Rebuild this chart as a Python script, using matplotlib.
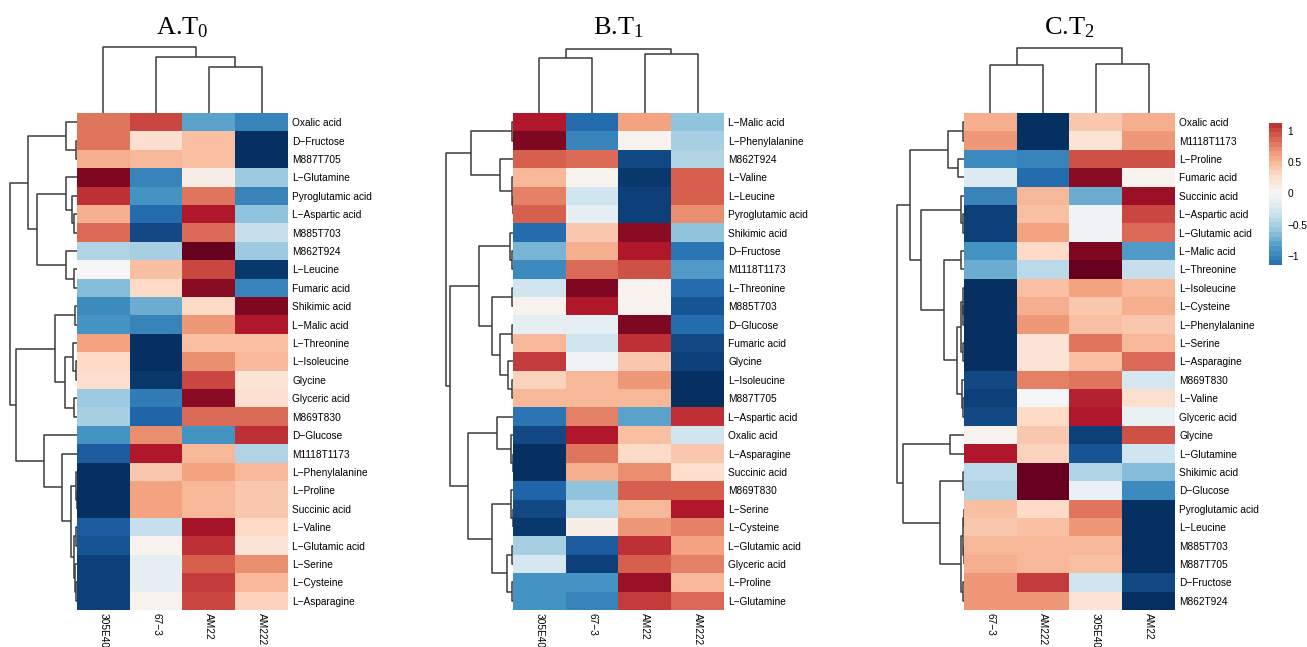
import numpy as np
import matplotlib
matplotlib.use("Agg")
import matplotlib.pyplot as plt
from matplotlib.colors import Normalize
from matplotlib.cm import ScalarMappable

plt.rcParams["font.family"] = ["Liberation Sans", "DejaVu Sans"]
plt.rcParams["mathtext.fontset"] = "custom"
plt.rcParams["mathtext.rm"] = "Liberation Serif"
plt.rcParams["mathtext.it"] = "Liberation Serif"

# ---- panel A (T0) ----
samples_a = ["305E40", "67-3", "AM22", "AM222"]
rows_a = ["Oxalic acid", "D-Fructose", "M887T705", "L-Glutamine", "Pyroglutamic acid",
          "L-Aspartic acid", "M885T703", "M862T924", "L-Leucine", "Fumaric acid",
          "Shikimic acid", "L-Malic acid", "L-Threonine", "L-Isoleucine", "Glycine",
          "Glyceric acid", "M869T830", "D-Glucose", "M1118T1173", "L-Phenylalanine",
          "L-Proline", "Succinic acid", "L-Valine", "L-Glutamic acid", "L-Serine",
          "L-Cysteine", "L-Asparagine"]
values_a = [[0.8, 1.0, -0.8, -1.0], [0.8, 0.25, 0.45, -1.5], [0.55, 0.5, 0.45, -1.5],
            [1.4, -1.0, 0.1, -0.55], [1.1, -0.9, 0.8, -1.0], [0.55, -1.15, 1.2, -0.6],
            [0.85, -1.35, 0.85, -0.35], [-0.45, -0.5, 1.5, -0.55], [0.0, 0.45, 1.0, -1.45],
            [-0.65, 0.3, 1.35, -1.0], [-0.95, -0.75, 0.3, 1.4], [-0.9, -1.0, 0.65, 1.2],
            [0.6, -1.5, 0.45, 0.45], [0.3, -1.5, 0.7, 0.5], [0.25, -1.45, 1.0, 0.2],
            [-0.55, -1.05, 1.35, 0.25], [-0.5, -1.2, 0.85, 0.85], [-0.9, 0.7, -0.9, 1.1],
            [-1.25, 1.2, 0.5, -0.45], [-1.5, 0.4, 0.6, 0.5], [-1.5, 0.6, 0.5, 0.4],
            [-1.5, 0.6, 0.5, 0.4], [-1.25, -0.35, 1.25, 0.3], [-1.3, 0.05, 1.1, 0.2],
            [-1.4, -0.15, 0.9, 0.7], [-1.4, -0.15, 1.05, 0.5], [-1.4, 0.05, 1.0, 0.35]]
# dendrograms: (left, right, height), leaves are row / column indices
row_tree_a = (((0, (1, 2, 1), 11),
               ((3, (4, (5, 6, 3.5), 5.5), 11), (7, (8, 9, 3.5), 11.5), 40), 49),
              (((10, 11, 2), ((12, (13, 14, 1), 4), (15, 16, 3), 12), 22),
               (17, (18, ((19, (20, 21, 0.5), 1.5),
                          ((22, 23, 1.5), (24, (25, 26, 1), 2), 3), 6.3), 15.3), 33), 61),
              67)
col_tree_a = (0, (1, (2, 3, 46), 56), 66)

# ---- panel B (T1) ----
samples_b = ["305E40", "67-3", "AM22", "AM222"]
rows_b = ["L-Malic acid", "L-Phenylalanine", "M862T924", "L-Valine", "L-Leucine",
          "Pyroglutamic acid", "Shikimic acid", "D-Fructose", "M1118T1173", "L-Threonine",
          "M885T703", "D-Glucose", "Fumaric acid", "Glycine", "L-Isoleucine", "M887T705",
          "L-Aspartic acid", "Oxalic acid", "L-Asparagine", "Succinic acid", "M869T830",
          "L-Serine", "L-Cysteine", "L-Glutamic acid", "Glyceric acid", "L-Proline",
          "L-Glutamine"]
values_b = [[1.2, -1.15, 0.6, -0.6], [1.4, -1.0, 0.05, -0.5], [0.9, 0.85, -1.35, -0.45],
            [0.5, 0.05, -1.45, 0.9], [0.75, -0.3, -1.4, 0.9], [0.9, -0.15, -1.4, 0.7],
            [-1.15, 0.4, 1.35, -0.6], [-0.7, 0.55, 1.2, -1.1], [-0.95, 0.85, 0.95, -0.85],
            [-0.3, 1.4, 0.05, -1.15], [0.05, 1.2, 0.05, -1.3], [-0.15, -0.15, 1.4, -1.15],
            [0.5, -0.3, 1.1, -1.35], [1.05, -0.05, 0.4, -1.4], [0.35, 0.5, 0.65, -1.5],
            [0.5, 0.5, 0.5, -1.5], [-1.1, 0.75, -0.8, 1.1], [-1.35, 1.2, 0.45, -0.3],
            [-1.5, 0.8, 0.3, 0.4], [-1.5, 0.55, 0.7, 0.25], [-1.2, -0.6, 0.9, 0.9],
            [-1.35, -0.4, 0.5, 1.2], [-1.45, 0.1, 0.65, 0.75], [-0.5, -1.25, 1.1, 0.6],
            [-0.25, -1.4, 0.9, 0.75], [-0.9, -0.9, 1.3, 0.5], [-0.9, -1.0, 1.05, 0.85]]
row_tree_b = (((0, 1, 1), (2, (3, (4, 5, 0.5), 1.2), 13.3), 41.7),
              (((6, (7, 8, 1.5), 3.3),
                ((9, 10, 1), ((11, 12, 1), (13, (14, 15, 1), 5), 13.3), 21), 34.3),
               ((16, (17, (18, 19, 0.5), 2.3), 15.7),
                ((20, (21, 22, 0.5), 2.3), ((23, 24, 1.2), (25, 26, 1), 5.7), 21), 45),
               62.7),
              66.7)
col_tree_b = ((0, 1, 54.7), (2, 3, 58.7), 64)

# ---- panel C (T2) ----
samples_c = ["67-3", "AM222", "305E40", "AM22"]
rows_c = ["Oxalic acid", "M1118T1173", "L-Proline", "Fumaric acid", "Succinic acid",
          "L-Aspartic acid", "L-Glutamic acid", "L-Malic acid", "L-Threonine",
          "L-Isoleucine", "L-Cysteine", "L-Phenylalanine", "L-Serine", "L-Asparagine",
          "M869T830", "L-Valine", "Glyceric acid", "Glycine", "L-Glutamine",
          "Shikimic acid", "D-Glucose", "Pyroglutamic acid", "L-Leucine", "M885T703",
          "M887T705", "D-Fructose", "M862T924"]
values_c = [[0.55, -1.5, 0.4, 0.55], [0.65, -1.5, 0.2, 0.65], [-0.95, -1.0, 0.95, 0.95],
            [-0.2, -1.15, 1.35, 0.05], [-1.0, 0.5, -0.75, 1.3], [-1.4, 0.45, -0.05, 1.0],
            [-1.4, 0.6, -0.05, 0.85], [-0.9, 0.3, 1.4, -0.85], [-0.75, -0.4, 1.5, -0.35],
            [-1.5, 0.45, 0.6, 0.5], [-1.5, 0.55, 0.4, 0.55], [-1.5, 0.65, 0.45, 0.4],
            [-1.5, 0.2, 0.8, 0.5], [-1.5, 0.2, 0.45, 0.85], [-1.35, 0.75, 0.8, -0.25],
            [-1.4, 0.0, 1.15, 0.25], [-1.35, 0.3, 1.2, -0.1], [0.05, 0.4, -1.4, 0.95],
            [1.2, 0.35, -1.3, -0.3], [-0.4, 1.5, -0.45, -0.65], [-0.45, 1.5, -0.1, -0.95],
            [0.45, 0.3, 0.8, -1.5], [0.4, 0.45, 0.65, -1.5], [0.5, 0.5, 0.5, -1.5],
            [0.55, 0.5, 0.45, -1.5], [0.65, 1.05, -0.3, -1.35], [0.65, 0.65, 0.2, -1.5]]
row_tree_c = ((((0, 1, 0.7), (2, 3, 5.7), 15.7),
               ((4, (5, 6, 0.7), 3.3),
                ((7, 8, 3.3),
                 (((9, (10, 11, 0.8), 1.5), (12, 13, 1), 3), (14, (15, 16, 1), 2.5), 7.3),
                 20), 43.3), 54),
              ((17, 18, 14),
               ((19, 20, 0.7), (((21, 22, 0.5), (23, 24, 0.5), 1.5), (25, 26, 0.7), 3.3), 24),
               60.7),
              66.7)
col_tree_c = ((0, 1, 48), (2, 3, 49), 65)

colorbar_ticks = [-1, -0.5, 0, 0.5, 1]

W, H = 1307, 647
norm = Normalize(vmin=-1.5, vmax=1.5)
cmap = plt.get_cmap("RdBu_r")
line_color = "#3a3a3a"


def px_axes(fig, x0, y0, x1, y1):
    return fig.add_axes([x0 / W, 1 - y1 / H, (x1 - x0) / W, (y1 - y0) / H])


def draw_tree(ax, node, vertical):
    # returns (leaf position, height) of the node and draws its links
    if isinstance(node, int):
        return node, 0.0
    left, right, h = node
    pl, hl = draw_tree(ax, left, vertical)
    pr, hr = draw_tree(ax, right, vertical)
    pos = [pl, pl, pr, pr]
    hts = [hl, h, h, hr]
    if vertical:
        ax.plot(pos, hts, color=line_color, lw=1.1, solid_capstyle="butt")
    else:
        ax.plot(hts, pos, color=line_color, lw=1.1, solid_capstyle="butt")
    return (pl + pr) / 2, h


def panel(fig, title, rows, samples, values, row_tree, col_tree, left):
    right = left + 211
    top, bottom = 113, 610
    n = len(rows)

    ax = px_axes(fig, left, top, right, bottom)
    ax.imshow(np.array(values), cmap=cmap, norm=norm, aspect="auto",
              interpolation="nearest")
    ax.set_yticks(range(n))
    ax.set_yticklabels([r.replace("-", "\u2212") for r in rows], fontsize=7.3)
    ax.yaxis.tick_right()
    ax.set_xticks(range(len(samples)))
    ax.set_xticklabels([s.replace("-", "\u2212") for s in samples], fontsize=7.3,
                       rotation=270, ha="center", va="top")
    ax.tick_params(length=0, pad=3)
    ax.tick_params(axis="x", pad=2)
    for s in ax.spines.values():
        s.set_visible(False)

    rax = px_axes(fig, left - 69, top, left, bottom)
    draw_tree(rax, row_tree, vertical=False)
    rax.set_xlim(69, 0)
    rax.set_ylim(n - 0.5, -0.5)
    rax.axis("off")

    cax = px_axes(fig, left, top - 68, right, top)
    draw_tree(cax, col_tree, vertical=True)
    cax.set_xlim(-0.5, len(samples) - 0.5)
    cax.set_ylim(0, 68)
    cax.axis("off")

    fig.text((left + right) / 2 / W, 1 - 28 / H, title, ha="center", va="center",
             fontsize=19, family="Liberation Serif")


fig = plt.figure(figsize=(W / 100, H / 100), dpi=100)
panel(fig, r"A.T$_{\mathrm{0}}$", rows_a, samples_a, values_a, row_tree_a, col_tree_a, 77)
panel(fig, r"B.T$_{\mathrm{1}}$", rows_b, samples_b, values_b, row_tree_b, col_tree_b, 513)
panel(fig, r"C.T$_{\mathrm{2}}$", rows_c, samples_c, values_c, row_tree_c, col_tree_c, 964)

# colour key
kax = px_axes(fig, 1269, 123, 1282, 265)
sm = ScalarMappable(norm=norm, cmap=cmap)
cb = fig.colorbar(sm, cax=kax, boundaries=np.linspace(-1.14, 1.12, 31),
                  ticks=colorbar_ticks)
cb.set_ticklabels([f"{t:g}".replace("-", "\u2212") for t in colorbar_ticks])
cb.outline.set_visible(False)
kax.tick_params(length=0, labelsize=7.3, pad=4)

fig.savefig("out.png", dpi=100)
